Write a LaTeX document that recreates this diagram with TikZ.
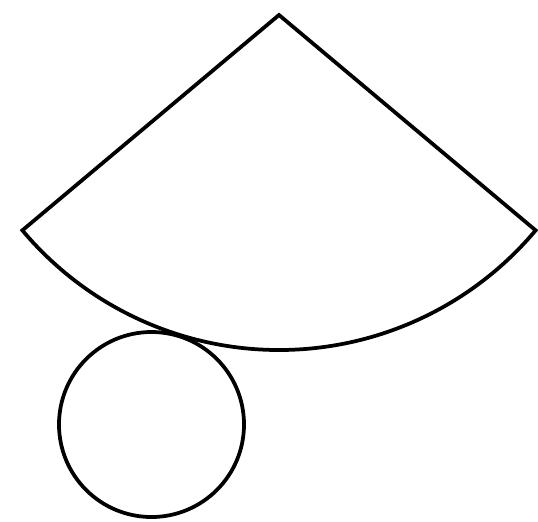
\documentclass[tikz,border=0pt]{standalone}
\begin{document}
\begin{tikzpicture}[x=0.03cm,y=0.03cm,
  outline/.style={draw=black,line width=3.2pt,line join=miter}]
\useasboundingbox (0,-521) rectangle (538,0);
\coordinate (apex) at (279,-15);
\coordinate (base) at (151.5,-424.5);
% sector (lateral surface of the cone)
\draw[outline] (apex) -- ++(220:335) coordinate (L)
  arc[start angle=220,end angle=320,radius=335] coordinate (R) -- cycle;
% base circle
\draw[outline] (base) circle[radius=92.5];
\end{tikzpicture}
\end{document}
